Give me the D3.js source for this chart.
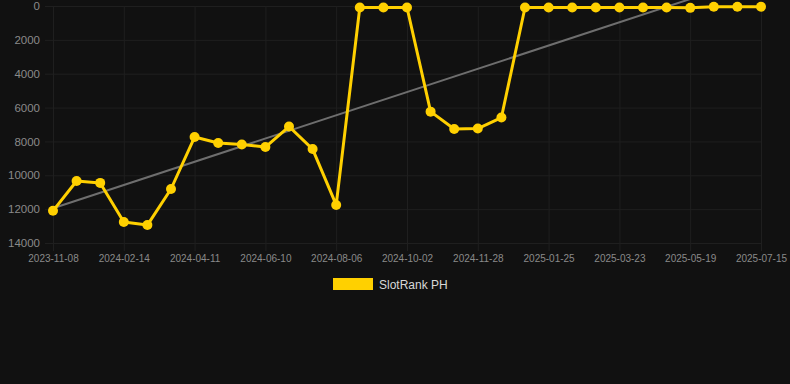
<!DOCTYPE html>
<html>
<head>
<meta charset="utf-8">
<script src="https://cdn.jsdelivr.net/npm/d3@7"></script>
<style>
  html, body { margin: 0; padding: 0; background: #111111; }
  svg { display: block; font-family: "Liberation Sans", Arial, sans-serif; }
</style>
</head>
<body>
<div class="container"></div>
<script>
// category labels (one per data point), every third one is shown on the axis
const dates = [
  '2023-11-08', '2023-12-11', '2024-01-13', '2024-02-14', '2024-03-04', '2024-03-23',
  '2024-04-11', '2024-05-01', '2024-05-21', '2024-06-10', '2024-06-29', '2024-07-18',
  '2024-08-06', '2024-08-25', '2024-09-13', '2024-10-02', '2024-10-21', '2024-11-09',
  '2024-11-28', '2024-12-17', '2025-01-06', '2025-01-25', '2025-02-13', '2025-03-04',
  '2025-03-23', '2025-04-11', '2025-04-30', '2025-05-19', '2025-06-07', '2025-06-26',
  '2025-07-15'
]
const ranks = [
  12100, 10340, 10450, 12760, 12940, 10810,
  7740, 8090, 8180, 8330, 7120, 8450,
  11750, 90, 90, 90, 6240, 7270,
  7240, 6590, 90, 90, 90, 90,
  90, 90, 90, 110, 40, 40,
  40
]
const yTicks = [0, 2000, 4000, 6000, 8000, 10000, 12000, 14000]
const seriesName = 'SlotRank PH'

const width = 790
const height = 384
const margin = {top: 6, right: 29, bottom: 141, left: 53}

const svg = d3.select('.container')
    .append('svg')
    .attr('width', width)
    .attr('height', height)

svg.append('rect')
    .attr('width', width)
    .attr('height', height)
    .attr('fill', '#111111')

const x = d3.scalePoint()
    .domain(d3.range(dates.length))
    .range([margin.left, width - margin.right])

const y = d3.scaleLinear()
    .domain([0, 14000])
    .range([margin.top, height - margin.bottom])

const shownTicks = d3.range(0, dates.length, 3)

// grid
const grid = svg.append('g').attr('class', 'grid')
grid.selectAll('.hgrid')
    .data(yTicks)
    .enter()
    .append('line')
        .attr('x1', margin.left - 8)
        .attr('x2', width - margin.right)
        .attr('y1', d => y(d) + 0.5)
        .attr('y2', d => y(d) + 0.5)
        .attr('stroke', '#1f1f1f')
grid.selectAll('.vgrid')
    .data(shownTicks)
    .enter()
    .append('line')
        .attr('x1', d => x(d) + 0.5)
        .attr('x2', d => x(d) + 0.5)
        .attr('y1', margin.top)
        .attr('y2', height - margin.bottom + 8)
        .attr('stroke', '#1f1f1f')

// y axis labels
svg.append('g')
    .attr('transform', `translate(${margin.left - 10},0)`)
    .call(d3.axisLeft(y).tickValues(yTicks).tickSize(0).tickFormat(d => d))
    .call(g => g.select('.domain').remove())
    .selectAll('text')
        .attr('fill', '#8a8a8a')
        .attr('font-size', 11.5)
        .attr('font-family', '"Liberation Sans", Arial, sans-serif')

// x axis labels
svg.append('g')
    .attr('transform', `translate(0,${height - margin.bottom + 9})`)
    .call(d3.axisBottom(x).tickValues(shownTicks).tickSize(0).tickFormat(i => dates[i]))
    .call(g => g.select('.domain').remove())
    .selectAll('text')
        .attr('fill', '#8a8a8a')
        .attr('font-size', 10)
        .attr('font-family', '"Liberation Sans", Arial, sans-serif')

// trend line (least squares)
const n = ranks.length
const mx = d3.mean(d3.range(n))
const my = d3.mean(ranks)
const slope = d3.sum(ranks, (v, i) => (i - mx) * (v - my)) / d3.sum(d3.range(n), i => (i - mx) * (i - mx))
const icpt = my - slope * mx
svg.append('line')
    .attr('x1', x(0))
    .attr('y1', y(icpt))
    .attr('x2', x(n - 1))
    .attr('y2', y(icpt + slope * (n - 1)))
    .attr('stroke', '#6e6e6e')
    .attr('stroke-width', 2)

// series line
const line = d3.line()
    .x((d, i) => x(i))
    .y(d => y(d))
svg.append('path')
    .datum(ranks)
    .attr('d', line)
    .attr('fill', 'none')
    .attr('stroke', '#ffd000')
    .attr('stroke-width', 3)
    .attr('stroke-linejoin', 'round')

svg.append('g')
    .selectAll('circle')
    .data(ranks)
    .enter()
    .append('circle')
        .attr('cx', (d, i) => x(i))
        .attr('cy', d => y(d))
        .attr('r', 5)
        .attr('fill', '#ffd000')

// legend
const legend = svg.append('g').attr('id', 'legend')
legend.append('rect')
    .attr('x', 333)
    .attr('y', 278)
    .attr('width', 40)
    .attr('height', 12)
    .attr('fill', '#ffd000')
legend.append('text')
    .attr('x', 379)
    .attr('y', 289)
    .attr('fill', '#d8d8d8')
    .attr('font-size', 12)
    .text(seriesName)
</script>
</body>
</html>
